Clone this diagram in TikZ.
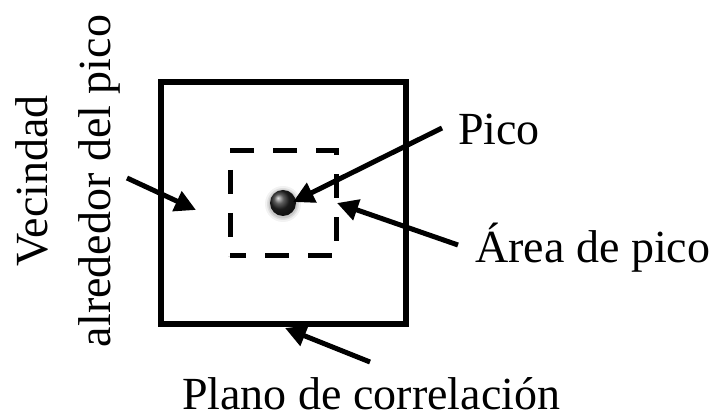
\documentclass[tikz,border=0pt]{standalone}
\usepackage{fontspec}
\setmainfont{Liberation Serif}
\usetikzlibrary{arrows.meta}
\begin{document}
\begin{tikzpicture}[x=1pt,y=-1pt,
  lbl/.style={font=\fontsize{46}{63}\selectfont, inner sep=0pt},
  ptr/.style={line width=5pt, -{Triangle[length=21pt,width=21pt]}, shorten <=0pt},
  solidbox/.style={draw, line width=5.5pt, minimum width=245pt, minimum height=242pt, inner sep=0pt},
  dashbox/.style={draw, line width=5pt, dash pattern=on 24pt off 19pt, dash phase=8pt, minimum width=106pt, minimum height=105pt, inner sep=0pt}]
\useasboundingbox (0,0) rectangle (716,419);
\node[solidbox] (plane) at (283.5,203) {};
\node[dashbox] (area) at (283,203.5) {};
% soft shadow of the peak
\foreach \r/\o in {18/0.05,16/0.08,14.5/0.1}{\fill[black,opacity=\o] (283,204) circle (\r pt);}
\node[circle, minimum size=26pt, inner sep=0pt, shading=ball, ball color=black!85] (peak) at (283,203) {};
\node[lbl, anchor=base west] (pico) at (458,145) {Pico};
\node[lbl, anchor=base west] (areat) at (475,263) {Área de pico};
\node[lbl, anchor=base west] (plano) at (182,410) {Plano de correlación};
\node[lbl, rotate=90, align=center] (vec) at (68,181) {Vecindad\\alrededor del pico};
\coordinate (t1) at (442,128);
\coordinate (h1) at (293,202);
\coordinate (t2) at (458,245);
\coordinate (h2) at (337,203);
\coordinate (t3) at (127,178);
\coordinate (h3) at (196,210);
\coordinate (t4) at (370,362);
\coordinate (h4) at (285,328);
\draw[ptr] (t1) -- (h1);
\draw[ptr] (t2) -- (h2);
\draw[ptr] (t3) -- (h3);
\draw[ptr] (t4) -- (h4);
\end{tikzpicture}
\end{document}
